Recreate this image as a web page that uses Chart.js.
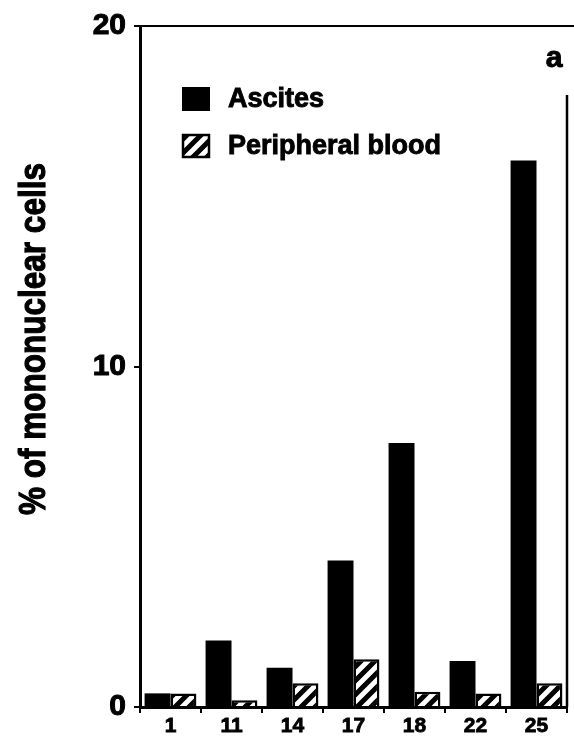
<!DOCTYPE html>
<html>
<head>
<meta charset="utf-8">
<script src="https://cdn.jsdelivr.net/npm/chart.js@4.4.1/dist/chart.umd.min.js"></script>
<style>
  html, body { margin: 0; padding: 0; background: #fff; }
</style>
</head>
<body>
<canvas id="chart" width="574" height="742"></canvas>
<script>
// patients on the x axis
const patients = ['1', '11', '14', '17', '18', '22', '25'];
// % of mononuclear cells
const ascites = [0.4, 1.95, 1.15, 4.3, 7.75, 1.35, 16.05];
const peripheralBlood = [0.4, 0.2, 0.7, 1.4, 0.45, 0.4, 0.7];
const yTicks = [0, 10, 20];

const FONT = "'Liberation Sans', Arial, Helvetica, sans-serif";

// diagonal "/" hatch used for the peripheral blood bars
function hatch() {
  const n = 14;
  const c = document.createElement('canvas');
  c.width = c.height = n;
  const g = c.getContext('2d');
  g.fillStyle = '#fff';
  g.fillRect(0, 0, n, n);
  g.strokeStyle = '#000';
  g.lineWidth = 5;
  g.beginPath();
  g.moveTo(-3, n + 3); g.lineTo(n + 3, -3);
  g.moveTo(-n - 3, n + 3); g.lineTo(3, -3);
  g.moveTo(n - 3, n + 3); g.lineTo(2 * n + 3, -3);
  g.stroke();
  return g.createPattern(c, 'repeat');
}

// bold text with a thin outline so it reads heavier
function heavyText(ctx, txt, x, y, w) {
  ctx.lineWidth = w;
  ctx.strokeStyle = '#000';
  ctx.strokeText(txt, x, y);
  ctx.fillText(txt, x, y);
}

// frame, rotated axis title, panel letter and legend
const extras = {
  id: 'extras',
  afterDraw(chart) {
    const { ctx, chartArea: a } = chart;
    ctx.save();
    ctx.strokeStyle = '#000';
    ctx.lineWidth = 2;
    ctx.beginPath();
    ctx.moveTo(a.left, a.top);
    ctx.lineTo(574, a.top);
    ctx.stroke();
    ctx.lineWidth = 2.5;
    ctx.beginPath();
    ctx.moveTo(a.right, 95);
    ctx.lineTo(a.right, a.bottom);
    ctx.stroke();

    ctx.fillStyle = '#000';
    ctx.save();
    ctx.translate(45, 339);
    ctx.rotate(-Math.PI / 2);
    ctx.scale(1, 1.2);
    ctx.font = 'bold 31.5px ' + FONT;
    ctx.textAlign = 'center';
    ctx.textBaseline = 'alphabetic';
    heavyText(ctx, '% of mononuclear cells', 0, 0, 1);
    ctx.restore();

    ctx.font = 'bold 30px ' + FONT;
    ctx.textAlign = 'center';
    ctx.textBaseline = 'alphabetic';
    heavyText(ctx, 'a', 554, 67, 1);

    ctx.font = 'bold 27px ' + FONT;
    ctx.textAlign = 'left';
    ctx.textBaseline = 'middle';
    chart.data.datasets.forEach((ds, i) => {
      const cy = 99 + i * 47;
      ctx.fillStyle = ds.backgroundColor;
      ctx.fillRect(182, cy - 12, 28, 24);
      if (ds.borderWidth) {
        ctx.lineWidth = 2.5;
        ctx.strokeRect(183, cy - 11, 26, 22);
      }
      ctx.fillStyle = '#000';
      heavyText(ctx, ds.label, 228, cy + 1, 0.9);
    });
    ctx.restore();
  }
};

new Chart(document.getElementById('chart'), {
  type: 'bar',
  data: {
    labels: patients,
    datasets: [
      { label: 'Ascites', data: ascites, backgroundColor: '#000', borderWidth: 0,
        categoryPercentage: 0.85, barPercentage: 1 },
      { label: 'Peripheral blood', data: peripheralBlood, backgroundColor: hatch(),
        borderColor: '#000', borderWidth: 2.5, categoryPercentage: 0.85, barPercentage: 1 }
    ]
  },
  options: {
    responsive: false,
    animation: false,
    devicePixelRatio: 1,
    layout: { padding: { top: 20, right: 7, bottom: 0, left: 0 } },
    plugins: { legend: { display: false }, tooltip: { enabled: false } },
    scales: {
      x: {
        grid: { offset: true, drawOnChartArea: false, tickLength: 6, color: '#000', lineWidth: 2 },
        border: { color: '#000', width: 3 },
        ticks: { color: '#000', font: { family: FONT, size: 21, weight: 'bold' }, padding: 1,
          maxRotation: 0, textStrokeColor: '#000', textStrokeWidth: 0.8 },
        afterFit: s => { s.height = 35; }
      },
      y: {
        min: 0,
        max: 20,
        afterBuildTicks: s => { s.ticks = yTicks.map(v => ({ value: v })); },
        grid: { drawOnChartArea: false, tickLength: 6, color: '#000', lineWidth: 2 },
        border: { color: '#000', width: 3 },
        ticks: { color: '#000', font: { family: FONT, size: 30, weight: 'bold' }, padding: 8,
          textStrokeColor: '#000', textStrokeWidth: 1 },
        afterFit: s => { s.width = 140; }
      }
    }
  },
  plugins: [extras]
});
</script>
</body>
</html>
